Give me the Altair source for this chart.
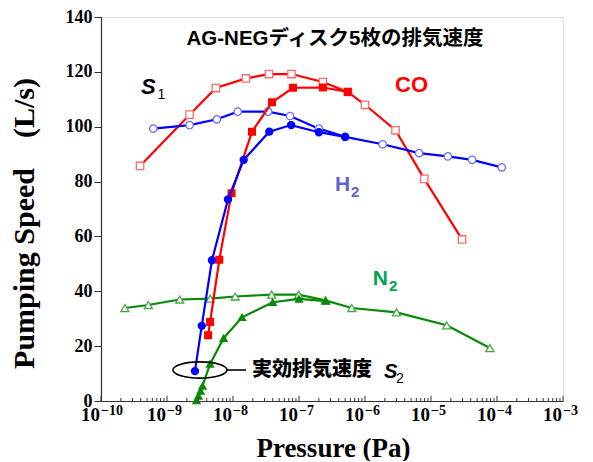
import altair as alt
import pandas as pd

# ---------------- data ----------------
CO_S1_P = [3.9e-10, 2.2e-9, 5.5e-9, 1.57e-8, 3.5e-8, 7.7e-8, 2.3e-7, 5.5e-7, 1.0e-6, 2.9e-6, 7.9e-6, 2.95e-5]
CO_S1_S = [85.7, 104.4, 114.1, 117.6, 119.2, 119.2, 116.3, 112.7, 108.0, 98.7, 81.0, 58.9]

CO_S2_P = [4.2e-9, 4.5e-9, 6.2e-9, 9.5e-9, 1.94e-8, 3.9e-8, 8.1e-8, 2.3e-7, 5.5e-7]
CO_S2_S = [24.0, 28.8, 51.5, 75.7, 98.2, 108.9, 114.2, 114.3, 112.7]

H2_S1_P = [6.2e-10, 2.2e-9, 5.7e-9, 1.18e-8, 3.4e-8, 7.3e-8, 2.0e-7, 5.0e-7, 1.85e-6, 6.6e-6, 1.8e-5, 4.2e-5, 1.18e-4]
H2_S1_S = [99.3, 100.6, 102.7, 105.5, 105.5, 103.9, 99.3, 96.3, 93.6, 90.4, 89.2, 87.9, 85.2]

H2_S2_P = [2.65e-9, 3.36e-9, 4.8e-9, 8.4e-9, 1.45e-8, 3.55e-8, 7.6e-8, 2.0e-7, 5.0e-7]
H2_S2_S = [10.9, 27.4, 51.3, 73.5, 87.9, 98.2, 100.6, 98.0, 96.3]

N2_S1_P = [2.3e-10, 5.2e-10, 1.56e-9, 4.5e-9, 1.08e-8, 3.85e-8, 9.9e-8, 2.5e-7, 6.3e-7, 3.0e-6, 1.73e-5, 7.8e-5]
N2_S1_S = [33.9, 35.0, 37.0, 37.3, 38.1, 38.8, 38.8, 36.7, 33.9, 32.3, 27.6, 19.3]

N2_S2_P = [2.8e-9, 3.0e-9, 3.22e-9, 3.45e-9, 4.5e-9, 7.2e-9, 1.37e-8, 4.0e-8, 1.0e-7, 2.56e-7]
N2_S2_S = [0.2, 1.8, 3.6, 5.5, 13.5, 22.9, 30.5, 36.0, 37.2, 36.4]

# axis ticks / labels
MAJOR_P = [1e-10, 1e-9, 1e-8, 1e-7, 1e-6, 1e-5, 1e-4, 1e-3]
MAJOR_EXP = ["\u221210", "\u22129", "\u22128", "\u22127", "\u22126", "\u22125", "\u22124", "\u22123"]
MINOR_P = [m * 10.0 ** k for k in range(-10, -3) for m in range(2, 10)]
Y_TICKS = [0, 20, 40, 60, 80, 100, 120, 140]

# annotations (data coordinates)
TITLE_TEXT = "AG-NEGディスク5枚の排気速度"
TITLE_P, TITLE_S = [3.51e-7], [132.0]
S1_P, S1_S = [4.04e-10, 7.18e-10], [112.0, 110.2]
CO_LBL_P, CO_LBL_S = [5.07e-6], [112.7]
H2_LBL_P, H2_LBL_S = [3.51e-7, 6.14e-7], [76.7, 74.2]
N2_LBL_P, N2_LBL_S = [1.31e-6, 2.31e-6], [42.2, 40.0]
S2_TEXT = "実効排気速度"
S2_TEXT_P, S2_TEXT_S = [1.94e-8], [11.3]
S2_SYM_P, S2_SYM_S = [1.94e-6, 2.95e-6], [8.4, 6.5]
ELLIPSE_P, ELLIPSE_S = [3.16e-9], [11.3]
CONN_P, CONN_P2, CONN_S = [8.1e-9], [1.57e-8], [11.3]

W, H = 462, 384
SERIF = "Liberation Serif"
SANS = "Liberation Sans, Noto Sans CJK JP, sans-serif"
CJK = "Noto Sans CJK JP, sans-serif"

xs = alt.Scale(type="log", domain=[1e-10, 1e-3], nice=False)
ys = alt.Scale(domain=[0, 140], nice=False)

xaxis = alt.Axis(labels=False, ticks=False, grid=False, domainColor="#333333", domainWidth=1.2,
                 title="Pressure  (Pa)", titleFont=SERIF, titleFontSize=27, titleFontWeight="bold",
                 titleColor="black", titleX=W / 2 + 1, titleY=55, titleBaseline="alphabetic")
yaxis = alt.Axis(values=Y_TICKS, grid=False, domainColor="#333333", domainWidth=1.2,
                 tickColor="#333333", tickSize=7, labelPadding=2,
                 labelFont=SERIF, labelFontSize=18, labelFontWeight="bold", labelColor="black",
                 title="Pumping Speed\u3000(L/s)", titleFont=SERIF, titleFontSize=30, titleFontWeight="bold",
                 titleColor="black", titleX=-62, titleY=206, titleAngle=-90, titleBaseline="bottom")

X = alt.X("P:Q", scale=xs, axis=xaxis)
Y = alt.Y("S:Q", scale=ys, axis=yaxis)


def df(P, S, **extra):
    d = pd.DataFrame({"P": P, "S": S})
    for k, v in extra.items():
        d[k] = v
    return d


def series(P, S, line_color, shape, fill, stroke, size):
    base = alt.Chart(df(P, S))
    line = base.mark_line(color=line_color, strokeWidth=2.2).encode(x=X, y=Y)
    pts = base.mark_point(shape=shape, filled=True, fill=fill, stroke=stroke, strokeWidth=1.3,
                          size=size, opacity=1, fillOpacity=1).encode(x=X, y=Y)
    return [line, pts]


layers = []
layers += series(CO_S1_P, CO_S1_S, "#ff0000", "square", "white", "#ff6b6b", 55)
layers += series(H2_S1_P, H2_S1_S, "#0000ff", "circle", "white", "#6f6fff", 55)
layers += series(N2_S1_P, N2_S1_S, "#078a07", "triangle-up", "white", "#4aa84a", 65)
layers += series(CO_S2_P, CO_S2_S, "#ff0000", "square", "#ff0000", "#ff0000", 45)
layers += series(H2_S2_P, H2_S2_S, "#0000ff", "circle", "#0000ff", "#0000ff", 50)
layers += series(N2_S2_P, N2_S2_S, "#078a07", "triangle-up", "#078a07", "#078a07", 50)

# x-axis ticks (inward), drawn through the scales
tick_major = alt.Chart(df(MAJOR_P, [0] * len(MAJOR_P), S2=[1.9] * len(MAJOR_P))).mark_rule(
    color="#333333", strokeWidth=1).encode(x=X, y=Y, y2="S2:Q")
tick_minor = alt.Chart(df(MINOR_P, [0] * len(MINOR_P), S2=[1.1] * len(MINOR_P))).mark_rule(
    color="#333333", strokeWidth=1).encode(x=X, y=Y, y2="S2:Q")
layers += [tick_major, tick_minor]

# x tick labels: "10" with superscript exponent
lab_df = df(MAJOR_P, [0] * len(MAJOR_P), base=["10"] * len(MAJOR_P), exp=MAJOR_EXP)
lab10 = alt.Chart(lab_df).mark_text(font=SERIF, fontSize=19, fontWeight="bold", align="right",
                                    baseline="alphabetic", dx=-1, color="black").encode(
    x=X, y=alt.value(H + 20), text="base:N")
labexp = alt.Chart(lab_df).mark_text(font=SERIF, fontSize=14, fontWeight="bold", align="left",
                                     baseline="alphabetic", dx=0, color="black").encode(
    x=X, y=alt.value(H + 14), text="exp:N")
layers += [lab10, labexp]

# annotations
title = alt.Chart(df(TITLE_P, TITLE_S, t=[TITLE_TEXT])).mark_text(
    font=SANS, fontSize=20.5, fontWeight="bold", align="center", baseline="middle", color="black").encode(
    x=X, y=Y, text="t:N")
s1_S = alt.Chart(df(S1_P[:1], S1_S[:1], t=["S"])).mark_text(
    font=SANS, fontSize=22, fontWeight="bold", fontStyle="italic", align="left", baseline="alphabetic",
    color="black").encode(x=X, y=Y, text="t:N")
s1_sub = alt.Chart(df(S1_P[1:], S1_S[1:], t=["1"])).mark_text(
    font=SANS, fontSize=14, align="left", baseline="alphabetic", color="black").encode(x=X, y=Y, text="t:N")
co_lbl = alt.Chart(df(CO_LBL_P, CO_LBL_S, t=["CO"])).mark_text(
    font=SANS, fontSize=22, fontWeight="bold", align="center", baseline="alphabetic", color="#ff0000").encode(
    x=X, y=Y, text="t:N")
h_lbl = alt.Chart(df(H2_LBL_P[:1], H2_LBL_S[:1], t=["H"])).mark_text(
    font=SANS, fontSize=21, fontWeight="bold", align="left", baseline="alphabetic", color="#6262cc").encode(
    x=X, y=Y, text="t:N")
h_sub = alt.Chart(df(H2_LBL_P[1:], H2_LBL_S[1:], t=["2"])).mark_text(
    font=SANS, fontSize=15, fontWeight="bold", align="left", baseline="alphabetic", color="#6262cc").encode(
    x=X, y=Y, text="t:N")
n_lbl = alt.Chart(df(N2_LBL_P[:1], N2_LBL_S[:1], t=["N"])).mark_text(
    font=SANS, fontSize=21, fontWeight="bold", align="left", baseline="alphabetic", color="#00a550").encode(
    x=X, y=Y, text="t:N")
n_sub = alt.Chart(df(N2_LBL_P[1:], N2_LBL_S[1:], t=["2"])).mark_text(
    font=SANS, fontSize=15, fontWeight="bold", align="left", baseline="alphabetic", color="#00a550").encode(
    x=X, y=Y, text="t:N")
s2_txt = alt.Chart(df(S2_TEXT_P, S2_TEXT_S, t=[S2_TEXT])).mark_text(
    font=CJK, fontSize=20, fontWeight=900, align="left", baseline="middle", color="black").encode(
    x=X, y=Y, text="t:N")
s2_S = alt.Chart(df(S2_SYM_P[:1], S2_SYM_S[:1], t=["S"])).mark_text(
    font=SANS, fontSize=20, fontWeight="bold", fontStyle="italic", align="left", baseline="alphabetic",
    color="black").encode(x=X, y=Y, text="t:N")
s2_sub = alt.Chart(df(S2_SYM_P[1:], S2_SYM_S[1:], t=["2"])).mark_text(
    font=SANS, fontSize=14, align="left", baseline="alphabetic", color="black").encode(x=X, y=Y, text="t:N")
ellipse = alt.Chart(df(ELLIPSE_P, ELLIPSE_S)).mark_point(
    shape="M-1,0A1,0.3,0,1,0,1,0A1,0.3,0,1,0,-1,0Z", filled=False, stroke="black", strokeWidth=1.6,
    size=2916, opacity=1).encode(x=X, y=Y)
conn = alt.Chart(df(CONN_P, CONN_S, P2=CONN_P2)).mark_rule(color="black", strokeWidth=1.6).encode(
    x=X, x2="P2:Q", y=Y)
layers += [title, s1_S, s1_sub, co_lbl, h_lbl, h_sub, n_lbl, n_sub, s2_txt, s2_S, s2_sub, ellipse, conn]

chart = alt.layer(*layers).properties(
    width=W, height=H,
    autosize=alt.AutoSizeParams(type="none"),
    padding={"left": 93, "top": 9, "right": 20, "bottom": 60},
).configure_view(stroke="#b0b0b0", strokeWidth=1.2).configure(background="white")

chart.save("out.html", embed_options={"renderer": "svg", "actions": False})
